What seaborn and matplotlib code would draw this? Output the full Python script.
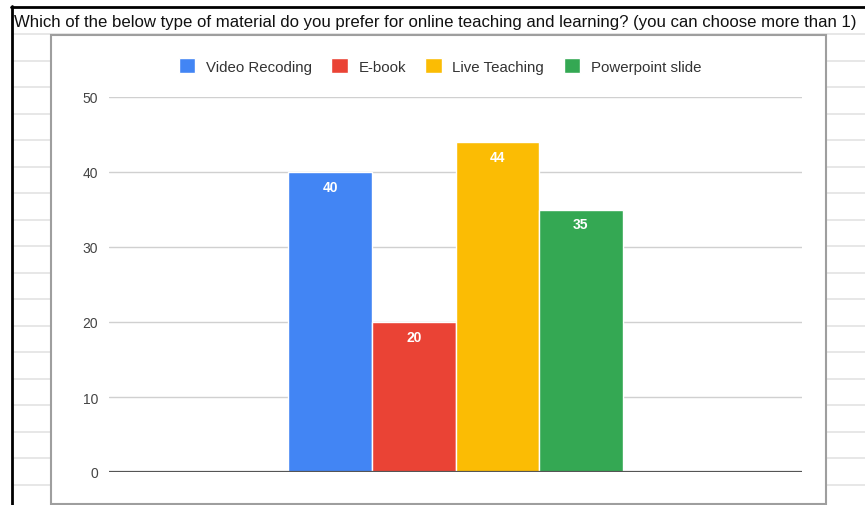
import matplotlib
matplotlib.use("Agg")
import matplotlib.pyplot as plt
from matplotlib.lines import Line2D
from matplotlib.patches import Rectangle
import seaborn as sns
import pandas as pd

title = "Which of the below type of material do you prefer for online teaching and learning? (you can choose more than 1)"
materials = ["Video Recoding", "E-book", "Live Teaching", "Powerpoint slide"]
counts = [40, 20, 44, 35]
colors = ["#4285F4", "#EA4335", "#FBBC04", "#34A853"]
yticks = [0, 10, 20, 30, 40, 50]

sns.set_theme(style="white")
plt.rcParams["font.family"] = ["Liberation Sans", "DejaVu Sans"]

W, H = 865, 506
fig = plt.figure(figsize=(W / 100, H / 100), dpi=100)
fig.patch.set_facecolor("white")

def fx(px):
    return px / W

def fy(py):
    return 1 - py / H

# spreadsheet background row lines (outside chart box)
y = 61.7
while y < H:
    fig.add_artist(Line2D([fx(12), fx(51)], [fy(y), fy(y)], color="#e3e3e3", lw=1.2, zorder=-2))
    fig.add_artist(Line2D([fx(827), fx(865)], [fy(y), fy(y)], color="#e3e3e3", lw=1.2, zorder=-2))
    y += 26.5
fig.add_artist(Line2D([fx(12), fx(865)], [fy(34.5), fy(34.5)], color="#e3e3e3", lw=1.2, zorder=-2))

# black cell border
fig.add_artist(Line2D([fx(11), fx(865)], [fy(7.5), fy(7.5)], color="black", lw=2, zorder=-1))
fig.add_artist(Line2D([fx(11.5), fx(11.5)], [fy(7), fy(506)], color="black", lw=2, zorder=-1))

# chart box
fig.add_artist(Rectangle((fx(51), fy(505)), fx(826) - fx(51), fy(36) - fy(505),
                         transform=fig.transFigure, facecolor="white",
                         edgecolor="#9e9e9e", lw=1.5, zorder=-1))

fig.text(fx(14), fy(22), title, fontsize=12.1, color="#111111", va="center", ha="left")

ax = fig.add_axes([fx(109), fy(473), fx(802) - fx(109), fy(98) - fy(473)])
ax.set_facecolor("none")

df = pd.DataFrame({"q": [""] * len(materials), "material": materials, "count": counts})
sns.barplot(data=df, x="q", y="count", hue="material", hue_order=materials,
            palette=colors, width=0.482, saturation=1, edgecolor="white",
            linewidth=1, ax=ax, legend=True, zorder=3)

ax.set_ylim(0, 50)
ax.set_xlim(-0.5, 0.5)
ax.set_yticks(yticks)
ax.set_yticklabels([str(t) for t in yticks], fontsize=10, color="#444444")
ax.tick_params(axis="y", length=0, pad=8)
ax.tick_params(axis="x", length=0, labelbottom=False)
ax.set_xlabel("")
ax.set_ylabel("")
for s in ax.spines.values():
    s.set_visible(False)
ax.yaxis.grid(True, color="#d0d0d0", lw=1)
ax.set_axisbelow(True)
ax.axhline(0, color="#555555", lw=1.6, zorder=4)

for c in ax.containers:
    ax.bar_label(c, padding=-15.5, color="white", fontsize=10, fontweight="bold")

handles, labels = ax.get_legend_handles_labels()
ax.legend_.remove()
fig.legend(handles, labels, loc="center", bbox_to_anchor=(fx(440), fy(67)),
           ncol=4, frameon=False, fontsize=10.8, handlelength=1.1, handleheight=1.1,
           handletextpad=0.7, columnspacing=1.3, labelcolor="#333333")

fig.savefig("out.png", dpi=100)
